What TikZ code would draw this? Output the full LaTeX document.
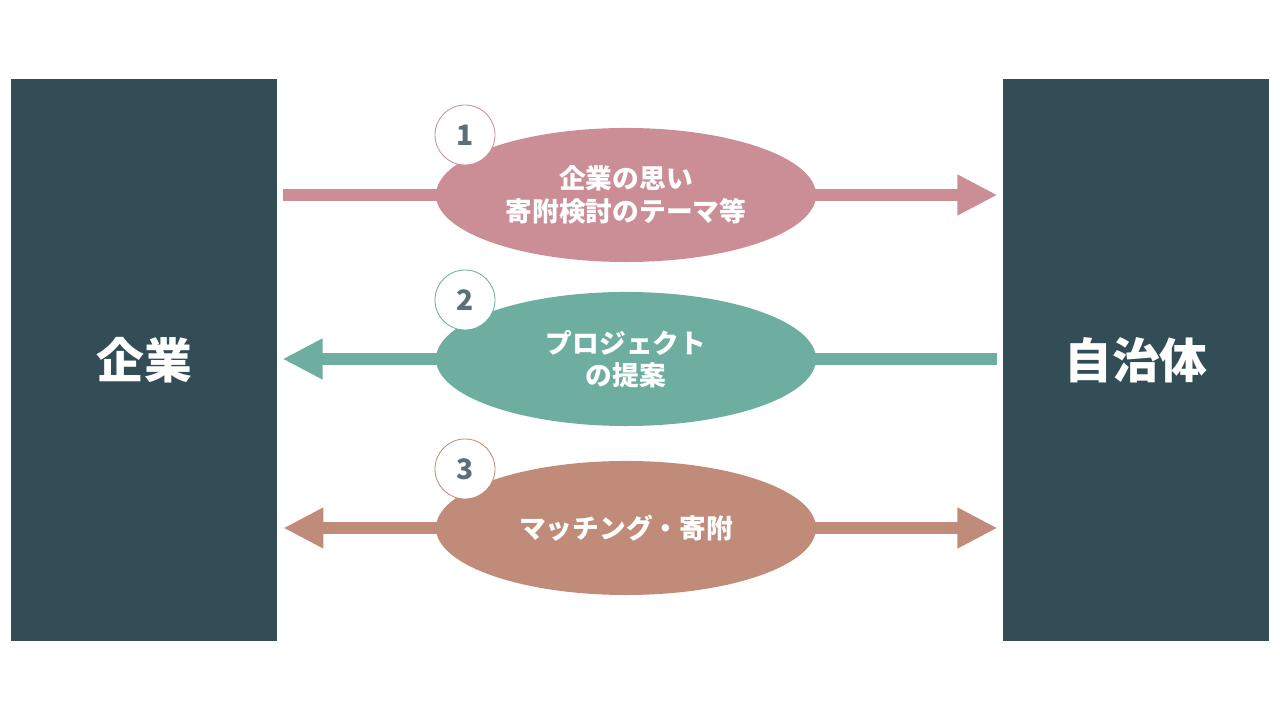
\documentclass[tikz,border=0pt]{standalone}
\usepackage{fontspec}
\setmainfont{Noto Sans CJK JP}
\usetikzlibrary{arrows.meta,backgrounds,positioning,shapes.geometric}
\definecolor{slate}{HTML}{324D55}
\definecolor{rose}{HTML}{CB8E96}
\definecolor{sage}{HTML}{6DAEA0}
\definecolor{clay}{HTML}{C08C79}
\definecolor{numgray}{HTML}{5B6F7A}
\begin{document}
\begin{tikzpicture}[x=0.025cm,y=0.025cm,
	side/.style={fill=slate, minimum width=6.65cm, minimum height=14.05cm, inner sep=0pt,
		text=white, font=\fontsize{34}{40}\selectfont\bfseries},
	bubble/.style={ellipse, minimum width=9.5cm, minimum height=3.35cm, inner sep=0pt,
		text=white, align=center, font=\fontsize{19}{23}\selectfont\bfseries},
	num/.style={circle, fill=white, draw=#1, line width=0.6pt, minimum size=1.5cm, inner sep=0pt,
		text=numgray, font=\fontsize{20}{24}\selectfont\bfseries},
	flow/.style={line width=9.2pt, shorten <=0.15cm, shorten >=0.13cm}]
	\useasboundingbox (0,0) rectangle (1280,720);
	\node[side] (kigyo) at (144,360) {企業};
	\node[side] (jichitai) at (1136,360) {自治体};
	\node[bubble, fill=rose] (omoi) at (626,525) {企業の思い\\寄附検討のテーマ等};
	\node[bubble, fill=sage] (teian) at (626,361) {プロジェクト\\の提案};
	\node[bubble, fill=clay] (kifu) at (626,192) {マッチング・寄附};
	\node[num=rose] (n1) at (465,585) {1};
	\node[num=sage] (n2) at (465,420) {2};
	\node[num=clay] (n3) at (465,251) {3};
	\begin{scope}[on background layer]
	\draw[flow, rose, -{Triangle[length=1cm, width=0.95cm]}] (kigyo.east |- omoi) -- (jichitai.west |- omoi);
	\draw[flow, sage, -{Triangle[length=1cm, width=0.95cm]}] (jichitai.west |- teian) -- (kigyo.east |- teian);
	\draw[flow, clay, {Triangle[length=1cm, width=0.95cm]}-{Triangle[length=1cm, width=0.95cm]}] (kigyo.east |- kifu) -- (jichitai.west |- kifu);
	\end{scope}
\end{tikzpicture}
\end{document}
